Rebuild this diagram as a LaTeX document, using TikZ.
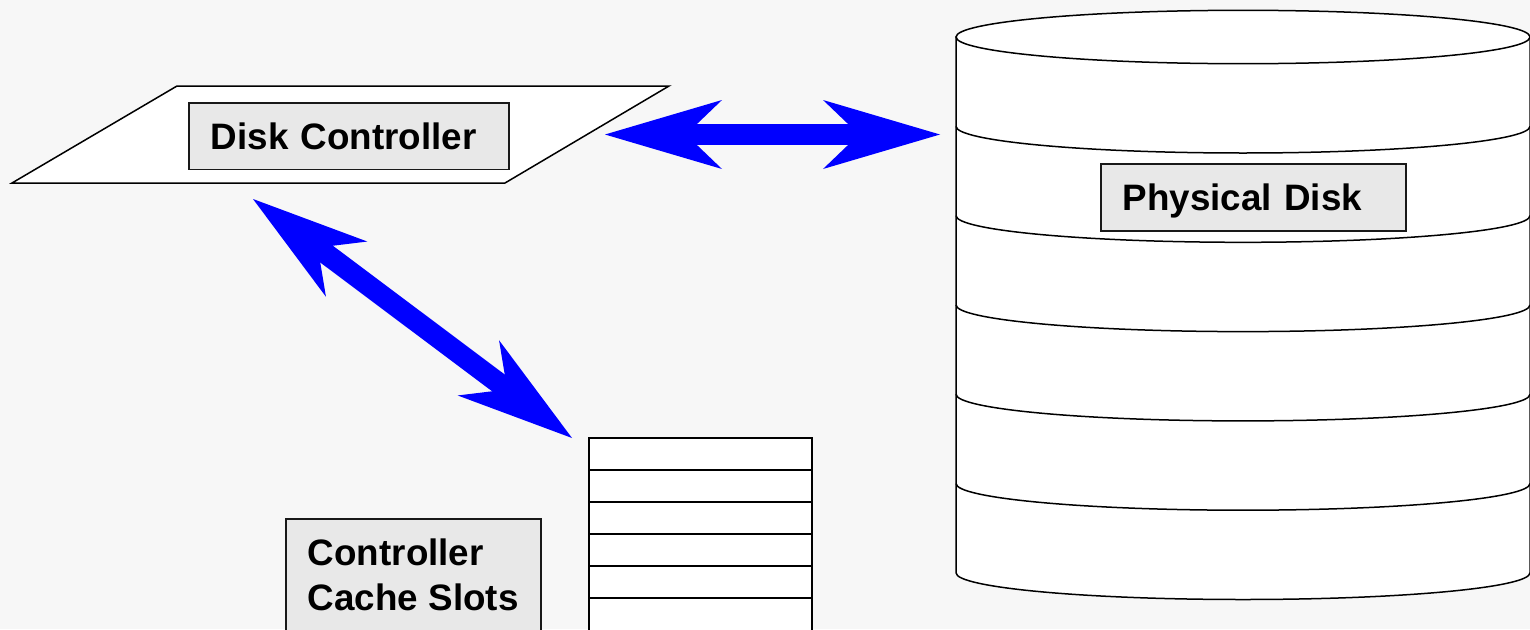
\documentclass[tikz,border=0pt]{standalone}
\usepackage{fontspec}
\setmainfont{Liberation Sans}
\usetikzlibrary{arrows.meta}
\definecolor{pagebg}{HTML}{F7F7F7}
\definecolor{lblfill}{HTML}{E8E8E8}
\definecolor{flow}{HTML}{0000FF}

\begin{document}
\begin{tikzpicture}[x=1pt,y=-1pt,
  outline/.style={draw=black, line width=1.5pt, fill=white, line join=miter},
  band/.style={draw=black, line width=1.5pt},
  lbl/.style={draw=black!90, line width=1.5pt, fill=lblfill,
    font=\fontsize{36.8}{44.3}\selectfont\bfseries,
    inner xsep=22pt, align=left, anchor=north west},
  flowarrow/.style={draw=flow, line width=21pt,
    >={Stealth[length=117pt,width=69pt,inset=36pt,line width=0pt]}, <->}]

% page
\useasboundingbox (0,0) rectangle (1530,629);
\fill[pagebg] (0,0) rectangle (1530,629);
\clip (0,0) rectangle (1530,629);

% ---- physical disk: stacked cylinder ----
\filldraw[outline] (956,37) -- (956,572.8)
  arc[start angle=180, end angle=0, x radius=287, y radius=26.7]
  -- (1530,37) -- cycle;
\foreach \yy in {126.3,215.6,304.9,394.2,483.5}
  \draw[band] (956,\yy) arc[start angle=180, end angle=0, x radius=287, y radius=26.7];
\draw[outline] (1243,37) ellipse[x radius=287, y radius=26.7];

% ---- disk controller plate ----
\filldraw[outline] (12,183) -- (177,86) -- (669,86) -- (505,183) -- cycle;

% ---- controller cache slots ----
\filldraw[outline] (589,438) rectangle (812,660);
\foreach \yy in {470,502,534,566,598}
  \draw[band] (589,\yy) -- (812,\yy);

% ---- labels ----
\node[lbl, text width=276pt, text height=26.5pt, text depth=0pt,
      minimum height=66.5pt] (dc) at (188,102) {Disk Controller};
\node[lbl, text width=261pt, text height=26.5pt, text depth=0pt,
      minimum height=67pt] (pd) at (1100,163) {Physical Disk};
\node[lbl, minimum width=255pt, inner xsep=21pt, inner ysep=20pt] (cc) at (285,518.3)
      {Controller\\Cache Slots};

% ---- data paths ----
\coordinate (dcE) at (605,134.5);
\coordinate (pdW) at (940,134.5);
\coordinate (dcS) at (253,199);
\coordinate (ccN) at (572,438);
\draw[flowarrow] (dcE) -- (pdW);
\draw[flowarrow] (dcS) -- (ccN);
\end{tikzpicture}
\end{document}
